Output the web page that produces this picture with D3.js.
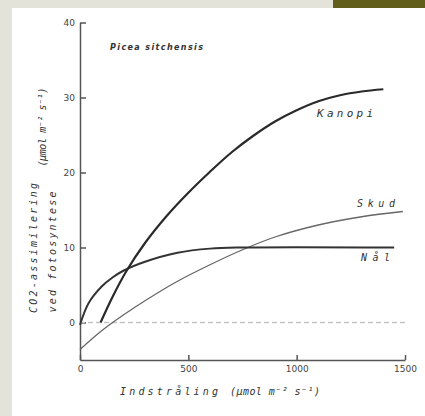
<!DOCTYPE html>
<html lang="da">
<head>
<meta charset="UTF-8">
<title>Picea sitchensis</title>
<script src="https://cdn.jsdelivr.net/npm/d3@7"></script>
<style type="text/css">
	body{ margin: 0; background: #e3e3da; }
	.axis path, .axis line { fill: none; stroke: #555; stroke-width: 1.5px }
	.axis text { font-family: "DejaVu Sans", sans-serif; font-size: 9px; fill: #444 }
	.lbl { font-family: "DejaVu Sans Mono", monospace; font-style: italic; fill: #333 }
</style>
</head>
<body>
<script type="text/javascript">

// light (µmol m-2 s-1) vs CO2 assimilation
var kanopi = [[95,0],[150,3.4],[213,6.8],[300,10.6],[400,14.2],[500,17.3],[600,20.1],[700,22.7],
	[800,24.9],[900,26.8],[1000,28.3],[1100,29.5],[1200,30.3],[1300,30.8],[1400,31.1]];
var skud = [[0,-3.6],[100,-1.1],[200,1.0],[300,2.9],[450,5.5],[600,7.7],[750,9.7],
	[900,11.4],[1100,13.0],[1300,14.1],[1490,14.8]];
var naal = [[0,-0.3],[40,2.6],[100,4.8],[150,6.0],[200,6.9],[300,8.1],[450,9.3],[600,9.85],[750,10],[1450,10]];

var xTicks = [0, 500, 1000, 1500];
var yTicks = [0, 10, 20, 30, 40];

var width = 425, height = 416;
var svg = d3.select('body').append('svg')
	.attr('width', width).attr('height', height)
	.style('display', 'block');

// backdrop: gray page, olive corner, white sheet
svg.append('rect').attr('x', 333).attr('y', 0).attr('width', 92).attr('height', 9).style('fill', '#615d1a');
svg.append('rect').attr('x', 12).attr('y', 8).attr('width', width - 12).attr('height', height - 8).style('fill', '#fff');

var x = d3.scaleLinear().domain([0, 1500]).range([80, 405]);
var y = d3.scaleLinear().domain([-5, 40]).range([360, 22.5]);

svg.append('g')
	.attr('class', 'x axis')
	.attr('transform', 'translate(0,' + y(-5) + ')')
	.call(d3.axisBottom(x).tickValues(xTicks).tickFormat(d3.format('d'))
		.tickSizeInner(-5).tickSizeOuter(0).tickPadding(6));

svg.append('g')
	.attr('class', 'y axis')
	.attr('transform', 'translate(' + x(0) + ',0)')
	.call(d3.axisLeft(y).tickValues(yTicks).tickSizeInner(-6).tickSizeOuter(0).tickPadding(5));

// dashed zero line
svg.append('line')
	.attr('x1', x(0)).attr('x2', x(1500))
	.attr('y1', y(0)).attr('y2', y(0))
	.style('stroke', '#c4c4c4').style('stroke-width', 1.5).style('stroke-dasharray', '5,3');

var line = d3.line().x(d => x(d[0])).y(d => y(d[1])).curve(d3.curveCatmullRom.alpha(0.5));

svg.append('path').datum(skud).attr('d', line)
	.style('fill', 'none').style('stroke', '#666').style('stroke-width', 1.3);
svg.append('path').datum(naal).attr('d', line)
	.style('fill', 'none').style('stroke', '#333').style('stroke-width', 2);
svg.append('path').datum(kanopi).attr('d', line)
	.style('fill', 'none').style('stroke', '#2a2a2a').style('stroke-width', 2.2);

// labels
svg.append('text').attr('class', 'lbl').attr('x', 110).attr('y', 50)
	.attr('textLength', 93).style('font-family', '"DejaVu Sans", sans-serif').style('font-weight', 'bold')
	.style('font-size', '8px').text('Picea sitchensis');

svg.append('text').attr('class', 'lbl').attr('x', 317).attr('y', 117)
	.attr('textLength', 56).style('font-size', '11px').text('Kanopi');
svg.append('text').attr('class', 'lbl').attr('x', 357).attr('y', 207)
	.attr('textLength', 38).style('font-size', '10px').text('Skud');
svg.append('text').attr('class', 'lbl').attr('x', 361).attr('y', 261)
	.attr('textLength', 29).style('font-size', '10px').text('Nål');

svg.append('text').attr('class', 'lbl')
	.attr('transform', 'translate(37,248) rotate(-90)').attr('text-anchor', 'middle')
	.attr('textLength', 130).style('font-size', '10px').text('CO2-assimilering');
svg.append('text').attr('class', 'lbl')
	.attr('transform', 'translate(56,252) rotate(-90)').attr('text-anchor', 'middle')
	.attr('textLength', 121).style('font-size', '10px').text('ved fotosyntese');
svg.append('text').attr('class', 'lbl')
	.attr('transform', 'translate(46,127) rotate(-90)').attr('text-anchor', 'middle')
	.attr('textLength', 79).style('font-size', '10px').text('(µmol m⁻² s⁻¹)');

svg.append('text').attr('class', 'lbl').attr('x', 120).attr('y', 395)
	.attr('textLength', 98).style('font-size', '10px').text('Indstråling');
svg.append('text').attr('class', 'lbl').attr('x', 230).attr('y', 395)
	.attr('textLength', 90).style('font-size', '10px').text('(µmol m⁻² s⁻¹)');

</script>
</body>
</html>
